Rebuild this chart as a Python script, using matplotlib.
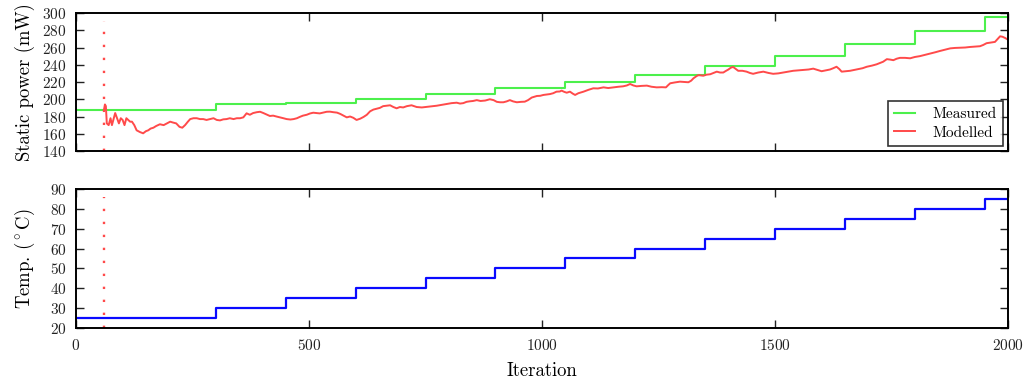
import numpy as np
import matplotlib
matplotlib.use("Agg")
import matplotlib.pyplot as plt

plt.rcParams['font.family'] = 'cmr10'
plt.rcParams['mathtext.fontset'] = 'cm'
plt.rcParams['axes.formatter.use_mathtext'] = True

# temperature set points: each step starts at the given iteration
step_start = [0, 300, 450, 600, 750, 900, 1050, 1200, 1350, 1500, 1650, 1800, 1950]
temperature = [25, 30, 35, 40, 45, 50, 55, 60, 65, 70, 75, 80, 85]
measured_power = [188, 194, 196, 200, 206, 213, 220, 228, 238.5, 250, 264, 279.5, 295.5]
last_iter = 2000

# model output (starts once the model is switched on)
model_start = 60
model_iter = [
    60, 62, 64, 66, 70, 74, 77, 80, 84, 88, 92, 96, 100, 104, 108, 112, 116, 120,
    125, 130, 137, 144, 150, 155, 160, 166, 172, 180, 188, 195, 202, 208, 215, 222,
    228, 234, 240, 245, 252, 259, 266, 273, 280, 288, 295, 302, 309, 316, 323, 330,
    338, 345, 352, 359, 366, 373, 380, 388, 395, 402, 410, 416, 423, 430, 438, 445,
    452, 460, 467, 474, 480, 487, 495, 502, 509, 516, 523, 530, 538, 545, 552, 560,
    567, 574, 581, 588, 595, 602, 610, 617, 624, 631, 638, 645, 652, 659, 666, 674,
    681, 688, 695, 702, 710, 720, 731, 742, 753, 764, 774, 785, 795, 806, 817, 824,
    831, 838, 845, 852, 860, 868, 878, 888, 896, 903, 910, 917, 924, 931, 938, 946,
    955, 963, 970, 978, 989, 996, 1003, 1010, 1017, 1024, 1031, 1038, 1042, 1048,
    1053, 1060, 1066, 1071, 1078, 1089, 1100, 1110, 1120, 1132, 1142, 1153, 1164,
    1174, 1182, 1189, 1196, 1203, 1214, 1225, 1235, 1246, 1257, 1266, 1270, 1275,
    1285, 1296, 1305, 1314, 1320, 1325, 1332, 1336, 1346, 1353, 1361, 1368, 1375,
    1382, 1389, 1395, 1400, 1405, 1410, 1416, 1421, 1430, 1439, 1446, 1453, 1464,
    1475, 1486, 1496, 1507, 1518, 1528, 1539, 1550, 1561, 1572, 1582, 1591, 1600,
    1609, 1618, 1625, 1632, 1638, 1643, 1652, 1661, 1670, 1679, 1688, 1697, 1708,
    1718, 1725, 1732, 1740, 1747, 1754, 1761, 1768, 1779, 1790, 1800, 1811, 1822,
    1833, 1844, 1854, 1865, 1876, 1886, 1897, 1908, 1918, 1929, 1940, 1947, 1954,
    1963, 1972, 1978, 1983, 1988, 1994, 2000,
]
model_power = [
    188, 194, 192, 172, 170, 178, 170, 176, 184, 178, 172, 178, 176, 170, 178, 176, 174, 174,
    170, 164, 162, 160.5, 163, 164, 166, 167, 169, 171, 170, 172, 174, 173, 172, 168,
    167, 170, 174, 177, 178, 178, 177, 177, 176, 177, 178, 176, 175.5, 176.7, 177, 178,
    177, 178, 178, 179, 183.7, 182, 184, 185, 185.5, 184, 182, 180.6, 181, 180, 179, 178,
    177, 176.5, 177, 178, 179.5, 181, 182, 183.5, 184.4, 184, 183.6, 184.5, 185.5, 185.6, 185, 184.5,
    183, 181, 179, 180, 178.5, 176, 177.5, 179.5, 182, 186, 188, 189, 190, 192, 192.5, 193,
    191, 189.5, 191, 190.5, 192, 193, 191, 190.5, 191.2, 192, 192.5, 193.5, 194.5, 195.5, 196, 195,
    195.5, 197, 197.6, 198, 199, 198, 198.5, 200, 199, 197, 196.5, 196.5, 197.5, 199, 197.5, 196.5,
    197, 197.2, 199, 202, 203.8, 204, 205, 205.5, 206, 207, 208.8, 209, 210, 208.5,
    207.6, 208.8, 206.5, 205, 207, 208.8, 211, 212.7, 212.5, 213.8, 213, 213.8, 214.5,
    215, 216, 217.7, 216, 215, 215.5, 215.8, 214.5, 213.8, 214, 213.8, 216, 218.5,
    219.5, 220.4, 220, 219.7, 221.5, 224.3, 227, 228, 227.3, 228.5, 229, 230.5, 232,
    231, 231, 233, 234.5, 236.5, 237.5, 235, 233, 233, 232, 230.5, 229.5, 231,
    232, 230.5, 229.5, 230, 231, 232, 233, 233.5, 234, 234.5, 235.5, 234, 232.5,
    233.5, 234.5, 236, 237.7, 235, 232, 232.5, 233, 234, 235, 236, 237.7, 239,
    240.5, 242, 243.5, 246.5, 246, 245.3, 247, 248, 248, 247.5, 249, 250, 251.5,
    253, 254.5, 256, 257.5, 259, 259.5, 259.8, 260, 260.6, 261, 261.5, 263, 265,
    265.8, 266.5, 270, 273, 272.5, 271, 269,
]

step_x = step_start + [last_iter]
measured_y = measured_power + [measured_power[-1]]
temp_y = temperature + [temperature[-1]]

fig = plt.figure(figsize=(10.29, 3.85), dpi=100)
ax1 = fig.add_axes([0.0739, 0.6078, 0.9057, 0.3584])
ax2 = fig.add_axes([0.0739, 0.1481, 0.9057, 0.3610])

ax1.step(step_x, measured_y, where='post', color='#4cf04c', lw=1.5, label='Measured')
ax1.plot(model_iter, model_power, color='#ff4a4a', lw=1.4, label='Modelled')
ax2.step(step_x, temp_y, where='post', color='#0a0aff', lw=1.6)

for ax in (ax1, ax2):
    ax.axvline(model_start, ymax=0.94, color='#ff4a4a', lw=1.7, ls=(0, (1, 4.5)))
    ax.set_xlim(0, 2000)
    ax.set_xticks([0, 500, 1000, 1500, 2000])
    ax.tick_params(direction='in', top=True, right=True, length=6, width=1.0,
                   labelsize=11, pad=7, colors='#222222')
    for s in ax.spines.values():
        s.set_linewidth(1.4)

ax1.set_ylim(140, 300)
ax1.set_yticks(np.arange(140, 301, 20))
ax1.tick_params(axis='x', labelbottom=False)
ax1.set_ylabel('Static power (mW)', fontsize=13.5, labelpad=5)

leg = ax1.legend(loc='lower right', fontsize=11, frameon=True, fancybox=False,
                 edgecolor='black', borderaxespad=0.35, handlelength=1.4,
                 handletextpad=1.1, labelspacing=0.3, borderpad=0.4)
leg.get_frame().set_linewidth(1.2)

ax2.set_ylim(20, 90)
ax2.set_yticks(np.arange(20, 91, 10))
ax2.set_ylabel(r'Temp. ($^\circ$C)', fontsize=13.5, labelpad=9)
ax2.set_xlabel('Iteration', fontsize=13.5, labelpad=7)

fig.savefig('out.png', dpi=100)
